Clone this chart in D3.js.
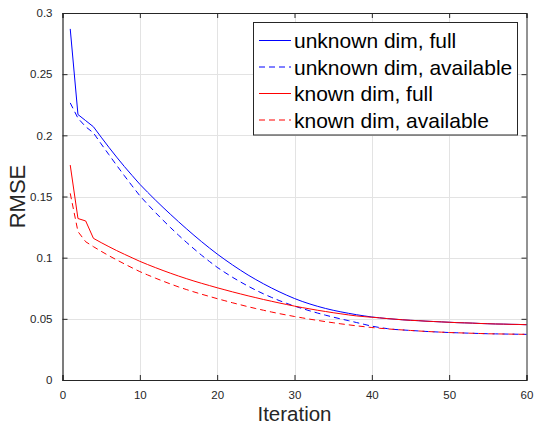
<!DOCTYPE html>
<html>
<head>
<meta charset="utf-8">
<title>RMSE vs Iteration</title>
<style>
  body { margin: 0; background: #fff; }
  svg { display: block; font-family: "Liberation Sans", Arial, sans-serif; }
</style>
</head>
<body>
<div id="chart"></div>
<script src="https://d3js.org/d3.v7.min.js"></script>
<script>
var iterations = d3.range(1, 61);

var unknownFull = [0.287, 0.217, 0.212, 0.207, 0.1985, 0.1902, 0.1822, 0.1745, 0.1672, 0.160,
    0.1535, 0.1472, 0.1411, 0.1352, 0.1294, 0.1238, 0.1183, 0.1130, 0.1079, 0.1030,
    0.0984, 0.0940, 0.0898, 0.0858, 0.0821, 0.0786, 0.0753, 0.0722, 0.0693, 0.0666,
    0.0642, 0.0621, 0.0602, 0.0585, 0.0570, 0.0557, 0.0545, 0.0534, 0.0524, 0.0515,
    0.0508, 0.0502, 0.0497, 0.0492, 0.0488, 0.0485, 0.0481, 0.0478, 0.0475, 0.0472,
    0.0469, 0.0467, 0.0465, 0.0462, 0.046, 0.0458, 0.0457, 0.0455, 0.0454, 0.0452];

var unknownAvail = [0.2265, 0.214, 0.207, 0.202, 0.193, 0.1842, 0.1755, 0.167, 0.1587, 0.1506,
    0.1437, 0.137, 0.1306, 0.1244, 0.1184, 0.1127, 0.1072, 0.1019, 0.0969, 0.0921,
    0.0879, 0.0839, 0.0802, 0.0767, 0.0734, 0.0704, 0.0676, 0.065, 0.0626, 0.0604,
    0.0584, 0.0565, 0.0547, 0.053, 0.0514, 0.0499, 0.0485, 0.047, 0.0455, 0.044,
    0.0429, 0.042, 0.0413, 0.0409, 0.0405, 0.0401, 0.0397, 0.0394, 0.0391, 0.0388,
    0.0386, 0.0384, 0.0382, 0.0380, 0.0378, 0.0377, 0.0376, 0.0375, 0.0374, 0.0373];

var knownFull = [0.1757, 0.132, 0.130, 0.1158, 0.1123, 0.109, 0.1058, 0.1028, 0.0999, 0.097,
    0.0944, 0.0919, 0.0895, 0.0872, 0.085, 0.0829, 0.0809, 0.079, 0.0772, 0.0754,
    0.0737, 0.072, 0.0704, 0.0688, 0.0673, 0.0658, 0.0644, 0.063, 0.0617, 0.0604,
    0.0592, 0.0581, 0.057, 0.056, 0.055, 0.0541, 0.0532, 0.0524, 0.0518, 0.0513,
    0.0508, 0.0502, 0.0497, 0.0492, 0.0488, 0.0485, 0.0481, 0.0478, 0.0475, 0.0472,
    0.0469, 0.0467, 0.0465, 0.0462, 0.046, 0.0458, 0.0457, 0.0455, 0.0454, 0.0452];

var knownAvail = [0.1526, 0.1213, 0.113, 0.109, 0.1052, 0.1016, 0.0982, 0.0949, 0.0917, 0.0886,
    0.0859, 0.0833, 0.0808, 0.0784, 0.0761, 0.074, 0.072, 0.0701, 0.0683, 0.0665,
    0.0648, 0.0631, 0.0615, 0.0599, 0.0584, 0.057, 0.0556, 0.0543, 0.0531, 0.0519,
    0.0508, 0.0497, 0.0487, 0.0477, 0.0468, 0.0459, 0.0451, 0.0443, 0.0436, 0.0429,
    0.0423, 0.0418, 0.0413, 0.0409, 0.0405, 0.0401, 0.0397, 0.0394, 0.0391, 0.0388,
    0.0386, 0.0384, 0.0382, 0.0380, 0.0378, 0.0377, 0.0376, 0.0375, 0.0374, 0.0373];

var seriesNames = ["unknown dim, full", "unknown dim, available", "known dim, full", "known dim, available"];
var seriesColors = ["#0000ff", "#0000ff", "#ff0000", "#ff0000"];
var seriesDashed = [false, true, false, true];
var seriesValues = [unknownFull, unknownAvail, knownFull, knownAvail];

var xTicks = [0, 10, 20, 30, 40, 50, 60];
var yTicks = [0, 0.05, 0.1, 0.15, 0.2, 0.25, 0.3];

var width = 534, height = 424;
var margin = {left: 62.5, right: 7.5, top: 13, bottom: 44};
var axisColor = "#262626";

var svg = d3.select("#chart").append("svg")
    .attr("width", width)
    .attr("height", height);

var x = d3.scaleLinear().domain([0, 60]).range([margin.left, width - margin.right]);
var y = d3.scaleLinear().domain([0, 0.3]).range([height - margin.bottom, margin.top]);

// grid
var grid = svg.append("g").attr("stroke", "#e3e3e3").attr("stroke-width", 1);
grid.selectAll(".gx").data(xTicks.slice(1, -1)).enter().append("line")
    .attr("x1", function (d) { return Math.round(x(d)) + 0.5; })
    .attr("x2", function (d) { return Math.round(x(d)) + 0.5; })
    .attr("y1", y(0)).attr("y2", y(0.3));
grid.selectAll(".gy").data(yTicks.slice(1, -1)).enter().append("line")
    .attr("y1", function (d) { return Math.round(y(d)) + 0.5; })
    .attr("y2", function (d) { return Math.round(y(d)) + 0.5; })
    .attr("x1", x(0)).attr("x2", x(60));

// lines
var line = d3.line()
    .x(function (d, i) { return x(iterations[i]); })
    .y(function (d) { return y(d); });

svg.append("g").selectAll("path").data(seriesValues).enter().append("path")
    .attr("d", line)
    .attr("fill", "none")
    .attr("stroke", function (d, i) { return seriesColors[i]; })
    .attr("stroke-width", 1)
    .attr("stroke-dasharray", function (d, i) { return seriesDashed[i] ? "6,4" : null; });

// axes (MATLAB style, ticks inside, box on)
var xAxis = d3.axisBottom(x).tickValues(xTicks).tickSize(-5).tickPadding(11)
    .tickFormat(d3.format("d"));
var yAxis = d3.axisLeft(y).tickValues(yTicks).tickSize(-5).tickPadding(10)
    .tickFormat(function (d) { return d === 0 ? "0" : String(+d.toFixed(2)); });

var gx = svg.append("g").attr("transform", "translate(0," + y(0) + ")").call(xAxis);
var gy = svg.append("g").attr("transform", "translate(" + x(0) + ",0)").call(yAxis);
[gx, gy].forEach(function (g) {
    g.select(".domain").attr("stroke", axisColor).attr("stroke-width", 1.2);
    g.selectAll(".tick line").attr("stroke", axisColor);
    g.selectAll(".tick text").attr("fill", axisColor).style("font-size", "11.5px")
        .style("font-family", "'Liberation Sans', Arial, sans-serif");
});

// top and right box with inward ticks
var gTop = svg.append("g").attr("transform", "translate(0," + y(0.3) + ")")
    .call(d3.axisTop(x).tickValues(xTicks).tickSize(-5).tickFormat(""));
var gRight = svg.append("g").attr("transform", "translate(" + x(60) + ",0)")
    .call(d3.axisRight(y).tickValues(yTicks).tickSize(-5).tickFormat(""));
[gTop, gRight].forEach(function (g) {
    g.select(".domain").attr("stroke", axisColor).attr("stroke-width", 1);
    g.selectAll(".tick line").attr("stroke", axisColor);
});

// axis labels
svg.append("text")
    .attr("x", x(30)).attr("y", 421)
    .attr("text-anchor", "middle")
    .attr("fill", axisColor)
    .style("font-size", "20.5px")
    .text("Iteration");

svg.append("text")
    .attr("transform", "translate(25," + y(0.15) + ") rotate(-90)")
    .attr("text-anchor", "middle")
    .attr("fill", axisColor)
    .style("font-size", "22px")
    .text("RMSE");

// legend
var legend = svg.append("g");
legend.append("rect")
    .attr("x", 253.5).attr("y", 22.5)
    .attr("width", 264).attr("height", 112.5)
    .attr("fill", "#fff")
    .attr("stroke", axisColor)
    .attr("stroke-width", 1);

var items = legend.selectAll(".item").data(seriesNames).enter().append("g")
    .attr("transform", function (d, i) { return "translate(0," + (40.5 + i * 26.5) + ")"; });
items.append("line")
    .attr("x1", 259).attr("x2", 291)
    .attr("y1", 0).attr("y2", 0)
    .attr("stroke", function (d, i) { return seriesColors[i]; })
    .attr("stroke-width", 1)
    .attr("stroke-dasharray", function (d, i) { return seriesDashed[i] ? "6,4" : null; });
items.append("text")
    .attr("x", 294).attr("y", 7.5)
    .attr("fill", "#000")
    .style("font-size", "21px")
    .text(function (d) { return d; });
</script>
</body>
</html>
